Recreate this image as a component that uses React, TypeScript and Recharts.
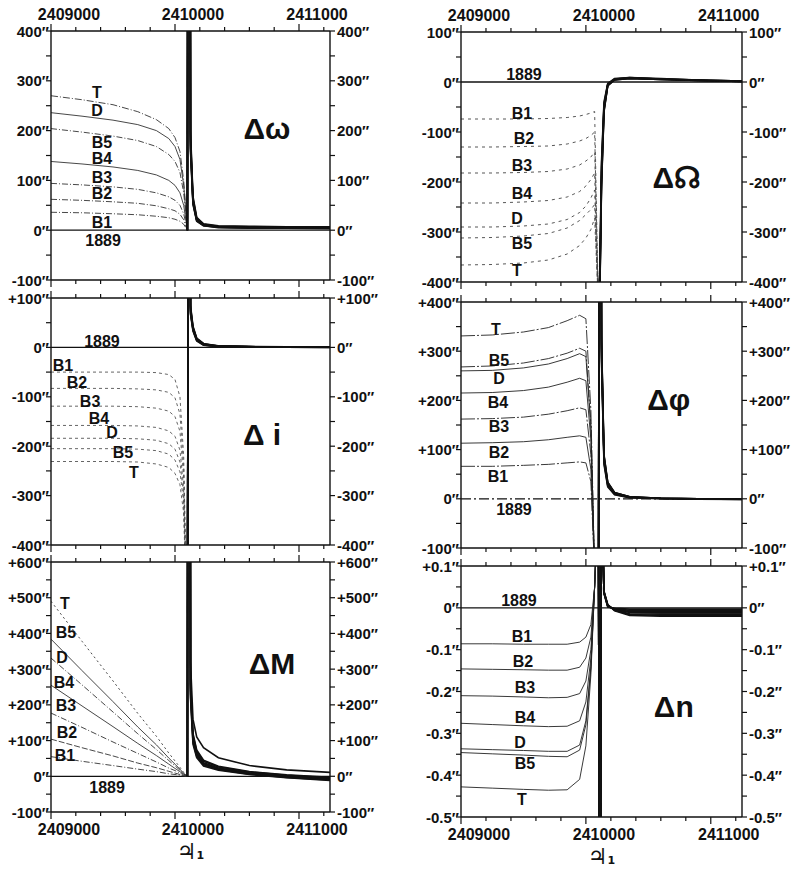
import React from "react";
import { LineChart, Line, XAxis, YAxis, ReferenceDot } from "recharts";

const FONT = "'Liberation Sans', Arial, sans-serif";
const INK = "#111";

// series order used by every *Pre / *Post table below
const seriesNames = ["T", "D", "B5", "B4", "B3", "B2", "B1"];

const xsPre = [2409000, 2409250, 2409500, 2409700, 2409850, 2409950, 2410000, 2410040, 2410070, 2410100];
const xsPost = [2410100, 2410112, 2410125, 2410145, 2410175, 2410230, 2410350, 2410600, 2410900, 2411250];
const xs1889 = [2409000, 2411250];
const vals1889 = [0, 0];
const xDomain = [2409000, 2411250];
const xTicks = [2409000, 2409200, 2409400, 2409600, 2409800, 2410000, 2410200, 2410400, 2410600, 2410800, 2411000, 2411200];

// Δω
const omegaTicks = [-100, -50, 0, 50, 100, 150, 200, 250, 300, 350, 400];
const omegaPre = [
  [270, 262, 252, 238, 222, 204, 186, 158, 100, 0],
  [236, 229, 221, 212, 200, 184, 168, 142, 90, 0],
  [204, 197, 189, 180, 168, 152, 138, 116, 75, 0],
  [138, 133, 127, 120, 111, 100, 90, 75, 50, 0],
  [94, 91, 87, 82, 75, 67, 60, 50, 33, 0],
  [62, 60, 57, 54, 49, 43, 39, 32, 21, 0],
  [36, 35, 33, 31, 28, 25, 22, 18, 12, 0],
];
const omegaPost = [
  [0, 2500, 200, 68, 26, 13, 9, 8, 7, 7],
  [0, 2500, 190, 64, 24, 12, 8, 7, 6, 6],
  [0, 2500, 182, 61, 22, 11, 7, 6, 6, 6],
  [0, 2500, 176, 59, 21, 10, 7, 6, 5, 5],
  [0, 2500, 170, 56, 20, 10, 6, 5, 5, 4],
  [0, 2500, 164, 54, 19, 9, 6, 5, 4, 4],
  [0, 2500, 158, 52, 18, 9, 5, 4, 4, 3],
];
const omegaLabels: [string, number, number][] = [
  ["T", 2409371, 276], ["D", 2409371, 240], ["B5", 2409411, 176], ["B4", 2409411, 144],
  ["B3", 2409411, 106], ["B2", 2409411, 74], ["B1", 2409411, 16], ["1889", 2409420, -20],
];

// Δi
const inclTicks = [-400, -350, -300, -250, -200, -150, -100, -50, 0, 50, 100];
const inclPre = [
  [-231, -231, -231, -232, -236, -243, -255, -278, -335, -600],
  [-184, -184, -184, -185, -188, -195, -206, -232, -300, -600],
  [-205, -205, -205, -206, -209, -216, -228, -252, -315, -600],
  [-158, -158, -158, -159, -162, -169, -180, -208, -285, -600],
  [-119, -119, -119, -120, -123, -129, -140, -170, -265, -600],
  [-83, -83, -83, -84, -86, -91, -102, -135, -245, -600],
  [-50, -50, -50, -50, -51, -55, -65, -100, -220, -600],
];
const inclPost = [
  [-600, 800, 85, 43, 19, 8, 3, 2, 1, 1],
  [-600, 800, 82, 41, 18, 7, 3, 1.5, 1, 0.5],
  [-600, 800, 79, 40, 17, 7, 2.5, 1.2, 0.8, 0.4],
  [-600, 800, 76, 38, 16, 6, 2, 1, 0.6, 0.3],
  [-600, 800, 73, 36, 15, 5.5, 2, 1, 0.5, 0.2],
  [-600, 800, 70, 35, 14, 5, 1.5, 0.8, 0.4, 0.1],
  [-600, 800, 67, 33, 13, 4.5, 1.5, 0.7, 0.3, 0],
];
const inclLabels: [string, number, number][] = [
  ["1889", 2409411, 12], ["B1", 2409097, -36], ["B2", 2409210, -71], ["B3", 2409315, -109],
  ["B4", 2409387, -144], ["D", 2409492, -172], ["B5", 2409581, -213], ["T", 2409669, -253],
];

// ΔM
const meanTicks = [-100, -50, 0, 50, 100, 150, 200, 250, 300, 350, 400, 450, 500, 550, 600];
const meanPre = [
  [490, 378, 267, 176, 112, 65, 43, 25, 11, 0],
  [331, 256, 180, 119, 75, 44, 29, 17, 7, 0],
  [384, 296, 209, 138, 88, 51, 34, 20, 8, 0],
  [255, 197, 139, 92, 58, 34, 22, 13, 6, 0],
  [177, 137, 96, 64, 40, 23, 16, 9, 4, 0],
  [104, 80, 57, 37, 24, 14, 9, 5, 2, 0],
  [55, 42, 30, 20, 13, 7, 5, 3, 1, 0],
];
const meanPost = [
  [0, 4000, 320, 160, 110, 80, 52, 30, 18, 11],
  [0, 4000, 260, 115, 70, 42, 26, 12, 3, -4],
  [0, 4000, 270, 120, 74, 45, 28, 13, 4, -3],
  [0, 4000, 250, 108, 65, 38, 23, 10, 1, -6],
  [0, 4000, 240, 102, 60, 35, 21, 8, -1, -8],
  [0, 4000, 230, 96, 56, 32, 19, 6, -3, -10],
  [0, 4000, 220, 90, 52, 29, 17, 5, -4, -12],
];
const meanLabels: [string, number, number][] = [
  ["T", 2409113, 485], ["B5", 2409121, 404], ["D", 2409089, 334], ["B4", 2409105, 264],
  ["B3", 2409121, 199], ["B2", 2409129, 123], ["B1", 2409113, 59], ["1889", 2409452, -31],
];

// ΔΩ
const nodeTicks = [-400, -350, -300, -250, -200, -150, -100, -50, 0, 50, 100];
const nodePre = [
  [-366, -365, -362, -356, -344, -327, -312, -295, -272, -450],
  [-290, -290, -288, -284, -275, -261, -248, -232, -216, -450],
  [-312, -311, -308, -303, -292, -277, -265, -255, -245, -450],
  [-242, -242, -240, -237, -230, -219, -208, -195, -182, -450],
  [-182, -182, -181, -179, -174, -166, -158, -150, -140, -450],
  [-130, -130, -129, -128, -124, -118, -113, -107, -100, -450],
  [-74, -74, -74, -73, -71, -68, -65, -62, -59, -450],
];
const nodePost = [
  [-450, -420, -210, -60, -8, 4, 7, 5, 3, 1],
  [-450, -410, -200, -56, -7, 5, 7, 5, 3, 1],
  [-450, -415, -205, -58, -7, 4, 7, 5, 3, 1],
  [-450, -400, -190, -52, -6, 5, 8, 6, 3, 1],
  [-450, -390, -180, -48, -5, 6, 8, 6, 4, 2],
  [-450, -380, -170, -44, -4, 6, 9, 6, 4, 2],
  [-450, -370, -160, -40, -3, 7, 9, 7, 4, 2],
];
const nodeLabels: [string, number, number][] = [
  ["1889", 2409504, 16], ["B1", 2409488, -62], ["B2", 2409504, -112], ["B3", 2409488, -166],
  ["B4", 2409488, -222], ["D", 2409448, -272], ["B5", 2409488, -322], ["T", 2409448, -376],
];

// Δφ
const phiTicks = [-100, -50, 0, 50, 100, 150, 200, 250, 300, 350, 400];
const phiPre = [
  [331, 333, 339, 348, 362, 373, 366, 180, -150, -400],
  [260, 261, 266, 274, 285, 295, 289, 145, -150, -400],
  [268, 270, 276, 285, 296, 306, 300, 150, -150, -400],
  [215, 216, 220, 227, 237, 245, 240, 120, -150, -400],
  [162, 163, 166, 172, 179, 185, 181, 90, -150, -400],
  [113, 114, 116, 120, 125, 128, 125, 60, -150, -400],
  [66, 66, 68, 70, 73, 75, 73, 35, -150, -400],
];
const phiPost = [
  [-400, 1500, 330, 90, 34, 13, 4, 1, 0, -1],
  [-400, 1500, 320, 86, 32, 12, 4, 1, 0, -1],
  [-400, 1500, 325, 88, 33, 12, 4, 1, 0, -1],
  [-400, 1500, 310, 82, 30, 11, 3, 1, 0, -1],
  [-400, 1500, 300, 78, 28, 10, 3, 0.5, -0.5, -1],
  [-400, 1500, 290, 74, 26, 9, 2, 0.5, -0.5, -1.5],
  [-400, 1500, 280, 70, 24, 8, 2, 0, -1, -1.5],
];
const phiLabels: [string, number, number][] = [
  ["T", 2409280, 345], ["B5", 2409304, 282], ["D", 2409304, 244], ["B4", 2409296, 195],
  ["B3", 2409304, 146], ["B2", 2409304, 95], ["B1", 2409296, 45], ["1889", 2409424, -22],
];

// Δn
const nTicks = [-0.5, -0.45, -0.4, -0.35, -0.3, -0.25, -0.2, -0.15, -0.1, -0.05, 0, 0.05, 0.1];
const nPre = [
  [-0.428, -0.431, -0.434, -0.436, -0.435, -0.41, -0.33, -0.16, 0.05, 0.3],
  [-0.337, -0.339, -0.341, -0.343, -0.343, -0.328, -0.27, -0.14, 0.05, 0.3],
  [-0.346, -0.349, -0.352, -0.355, -0.356, -0.34, -0.28, -0.145, 0.05, 0.3],
  [-0.276, -0.279, -0.282, -0.284, -0.283, -0.27, -0.225, -0.12, 0.05, 0.3],
  [-0.21, -0.211, -0.213, -0.215, -0.214, -0.205, -0.175, -0.1, 0.05, 0.3],
  [-0.146, -0.147, -0.148, -0.149, -0.149, -0.142, -0.12, -0.07, 0.05, 0.3],
  [-0.086, -0.086, -0.087, -0.087, -0.087, -0.082, -0.07, -0.04, 0.05, 0.3],
];
const nPost = [
  [0.3, -1.2, 0.3, 0.04, 0.008, -0.007, -0.018, -0.02, -0.02, -0.02],
  [0.3, -1.2, 0.3, 0.039, 0.007, -0.006, -0.016, -0.018, -0.018, -0.018],
  [0.3, -1.2, 0.3, 0.038, 0.006, -0.005, -0.014, -0.015, -0.015, -0.015],
  [0.3, -1.2, 0.3, 0.037, 0.005, -0.004, -0.011, -0.012, -0.012, -0.012],
  [0.3, -1.2, 0.3, 0.036, 0.004, -0.003, -0.009, -0.009, -0.009, -0.009],
  [0.3, -1.2, 0.3, 0.035, 0.003, -0.002, -0.006, -0.006, -0.006, -0.006],
  [0.3, -1.2, 0.3, 0.034, 0.002, -0.001, -0.003, -0.003, -0.003, -0.003],
];
const nLabels: [string, number, number][] = [
  ["1889", 2409464, 0.017], ["B1", 2409488, -0.069], ["B2", 2409496, -0.129], ["B3", 2409512, -0.191],
  ["B4", 2409512, -0.261], ["D", 2409472, -0.323], ["B5", 2409512, -0.373], ["T", 2409488, -0.457],
];

const toRows = (xs: number[], ys: number[]) => xs.map((x, i) => ({ x, y: ys[i] }));
const isOn = (v: number, step: number) => Math.abs(v / step - Math.round(v / step)) < 1e-6;

const fmtPlain = (v: number) => `${v}″`;
const fmtSigned = (v: number) => (v > 0 ? `+${v}″` : `${v}″`);
const fmtN = (v: number) => (v === 0 ? "0″" : v > 0 ? `+${v.toFixed(1)}″` : `${v.toFixed(1)}″`);

const textStyle = { fontFamily: FONT, fontWeight: 700, fill: INK } as const;

function makeXTick(side: "top" | "bottom", showLabels: boolean) {
  return (p: any) => {
    const v = p.payload.value;
    const major = isOn(v, 1000);
    const dir = side === "top" ? -1 : 1;
    return (
      <g>
        <line x1={p.x} x2={p.x} y1={p.y} y2={p.y + dir * (major ? 7 : 4)} stroke={INK} strokeWidth={1.2} />
        {showLabels && major && (
          <text x={p.x + 18} y={p.y + dir * 17} textAnchor="middle" dominantBaseline="central" fontSize={16} {...textStyle}>
            {v}
          </text>
        )}
      </g>
    );
  };
}

function makeYTick(side: "left" | "right", step: number, fmt: (v: number) => string) {
  return (p: any) => {
    const v = p.payload.value;
    const dir = side === "left" ? -1 : 1;
    return (
      <g>
        <line x1={p.x} x2={p.x + dir * 5} y1={p.y} y2={p.y} stroke={INK} strokeWidth={1.2} />
        {isOn(v, step) && (
          <text
            x={p.x + (side === "left" ? -2 : 7)}
            y={p.y}
            textAnchor={side === "left" ? "end" : "start"}
            dominantBaseline="central"
            fontSize={15}
            {...textStyle}
          >
            {fmt(v)}
          </text>
        )}
      </g>
    );
  };
}

function JupiterLabel(props: any) {
  const vb = props.viewBox || {};
  return (
    <text
      x={vb.x + vb.width / 2} y={vb.y + 39} textAnchor="middle" dominantBaseline="central"
      fontSize={22} fontFamily="'DejaVu Sans', sans-serif" fontWeight={700} fill={INK}
    >
      ♃<tspan dy={4} fontSize={11}>1</tspan>
    </text>
  );
}

type PanelProps = {
  box: [number, number, number, number];
  yDomain: [number, number];
  yTicks: number[];
  yStep: number;
  fmt: (v: number) => string;
  pre: number[][];
  post: number[][];
  dashes: string[];
  faint: string;
  zeroDash?: string;
  labels: [string, number, number][];
  title: string;
  titleAt: [number, number];
  topLabels?: boolean;
  bottomLabels?: boolean;
};

function Panel(props: PanelProps) {
  const { box, yDomain, yTicks, yStep, fmt, pre, post, dashes, faint, labels, title, titleAt } = props;
  const [pl, pt, pw, ph] = box;
  const LW = 60, RW = 60, TH = 34, BH = 60;
  const axisLine = { stroke: INK, strokeWidth: 1.4 };
  return (
    <div style={{ position: "absolute", left: pl - LW, top: pt - TH }}>
      <LineChart width={LW + pw + RW} height={TH + ph + BH} margin={{ top: 0, right: 0, bottom: 0, left: 0 }}>
        <XAxis
          xAxisId="b" dataKey="x" type="number" orientation="bottom" height={BH}
          domain={xDomain} ticks={xTicks} interval={0} allowDataOverflow
          tickSize={0} tickMargin={0} tickLine={false} axisLine={axisLine}
          tick={makeXTick("bottom", !!props.bottomLabels)}
          label={props.bottomLabels ? <JupiterLabel /> : undefined}
        />
        <XAxis
          xAxisId="t" dataKey="x" type="number" orientation="top" height={TH}
          domain={xDomain} ticks={xTicks} interval={0} allowDataOverflow
          tickSize={0} tickMargin={0} tickLine={false} axisLine={axisLine}
          tick={makeXTick("top", !!props.topLabels)}
        />
        <YAxis
          yAxisId="l" type="number" orientation="left" width={LW}
          domain={yDomain} ticks={yTicks} interval={0} allowDataOverflow
          tickSize={0} tickMargin={0} tickLine={false} axisLine={axisLine}
          tick={makeYTick("left", yStep, fmt)}
        />
        <YAxis
          yAxisId="r" type="number" orientation="right" width={RW}
          domain={yDomain} ticks={yTicks} interval={0} allowDataOverflow
          tickSize={0} tickMargin={0} tickLine={false} axisLine={axisLine}
          tick={makeYTick("right", yStep, fmt)}
        />
        <Line
          xAxisId="b" yAxisId="l" data={toRows(xs1889, vals1889)} dataKey="y"
          stroke={INK} strokeWidth={1.3} strokeDasharray={props.zeroDash} dot={false} isAnimationActive={false}
        />
        {pre.map((ys, i) => (
          <Line
            key={"pre" + seriesNames[i]} name={seriesNames[i]}
            xAxisId="b" yAxisId="l" data={toRows(xsPre, ys)} dataKey="y"
            stroke={faint} strokeWidth={0.9} strokeDasharray={dashes[i]}
            dot={false} isAnimationActive={false}
          />
        ))}
        {post.map((ys, i) => (
          <Line
            key={"post" + seriesNames[i]} name={seriesNames[i]}
            xAxisId="b" yAxisId="l" data={toRows(xsPost, ys)} dataKey="y"
            stroke={INK} strokeWidth={1.6} dot={false} isAnimationActive={false}
          />
        ))}
        {labels.map(([t, x, y]) => (
          <ReferenceDot
            key={"lab" + t} xAxisId="b" yAxisId="l" x={x} y={y} r={0} ifOverflow="visible"
            shape={(s: any) => (
              <text x={s.cx} y={s.cy} textAnchor="middle" dominantBaseline="central" fontSize={16} {...textStyle}>
                {t}
              </text>
            )}
          />
        ))}
        <ReferenceDot
          xAxisId="b" yAxisId="l" x={titleAt[0]} y={titleAt[1]} r={0} ifOverflow="visible"
          shape={(s: any) => (
            <text x={s.cx} y={s.cy} textAnchor="middle" dominantBaseline="central" fontSize={30} {...textStyle}>
              {title}
            </text>
          )}
        />
      </LineChart>
    </div>
  );
}

const dashOmega = ["7 2 1 2", "", "6 2 1 2", "", "6 2 1 2", "6 2 1 2", "6 2 1 2"];
const dashIncl = ["3 3", "3 3", "3 3", "3 3", "3 3", "3 3", "3 3"];
const dashMean = ["2 3", "6 2 1 2", "", "", "6 2 1 2", "6 2", "6 2 1 2"];
const dashNode = ["3 4", "3 4", "3 4", "3 4", "3 4", "3 4", "3 4"];
const dashPhi = ["14 2 2 2", "", "14 2 2 2", "", "14 2 2 2", "", "14 2 2 2"];
const dashN = ["", "", "", "", "", "", ""];

export default function App() {
  return (
    <div style={{ position: "absolute", left: 0, top: 0, width: 792, height: 871, background: "#fff", overflow: "hidden" }}>
      <Panel box={[51, 31, 279, 249]} yDomain={[-100, 400]} yTicks={omegaTicks} yStep={100} fmt={fmtPlain}
        pre={omegaPre} post={omegaPost} dashes={dashOmega} faint="#333" labels={omegaLabels}
        title="Δω" titleAt={[2410742, 204]} topLabels />
      <Panel box={[51, 298, 279, 247]} yDomain={[-400, 100]} yTicks={inclTicks} yStep={100} fmt={fmtSigned}
        pre={inclPre} post={inclPost} dashes={dashIncl} faint="#555" labels={inclLabels}
        title="Δ i" titleAt={[2410702, -176]} />
      <Panel box={[51, 562, 279, 250]} yDomain={[-100, 600]} yTicks={meanTicks} yStep={100} fmt={fmtSigned}
        pre={meanPre} post={meanPost} dashes={dashMean} faint="#333" labels={meanLabels}
        title="ΔM" titleAt={[2410782, 317]} bottomLabels />
      <Panel box={[461, 32, 281, 250]} yDomain={[-400, 100]} yTicks={nodeTicks} yStep={100} fmt={fmtPlain}
        pre={nodePre} post={nodePost} dashes={dashNode} faint="#444" labels={nodeLabels}
        title="Δ☊" titleAt={[2410728, -190]} topLabels />
      <Panel box={[461, 302, 281, 246]} yDomain={[-100, 400]} yTicks={phiTicks} yStep={100} fmt={fmtSigned}
        pre={phiPre} post={phiPost} dashes={dashPhi} faint="#222" zeroDash="10 3 2 3" labels={phiLabels}
        title="Δφ" titleAt={[2410664, 201]} />
      <Panel box={[461, 566, 281, 251]} yDomain={[-0.5, 0.1]} yTicks={nTicks} yStep={0.1} fmt={fmtN}
        pre={nPre} post={nPost} dashes={dashN} faint="#222" labels={nLabels}
        title="Δn" titleAt={[2410704, -0.237]} bottomLabels />
    </div>
  );
}
